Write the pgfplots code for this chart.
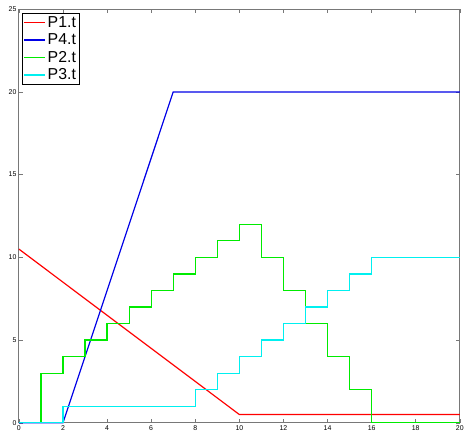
\documentclass[border=0pt]{standalone}
\usepackage{pgfplots}
\pgfplotsset{compat=1.18}
\usepackage{fontspec}
\setmainfont{Liberation Sans}
\usetikzlibrary{calc}
\definecolor{cred}{RGB}{255,0,0}
\definecolor{cblue}{RGB}{0,0,230}
\definecolor{cgreen}{RGB}{0,235,0}
\definecolor{ccyan}{RGB}{0,240,240}
\definecolor{axgray}{RGB}{120,120,120}
\begin{document}
\begin{tikzpicture}
\begin{axis}[
  clip=false,
  scale only axis,
  width=443.5bp, height=416bp,
  xmin=0, xmax=20, ymin=0, ymax=25,
  xtick={0,2,...,20}, ytick={0,5,...,25},
  tick align=inside,
  major tick length=4bp,
  axis line style={color=axgray, line width=0.8bp},
  tick style={color=axgray, line width=0.6bp},
  ticklabel style={font=\fontsize{7}{8}\selectfont},
  /pgf/number format/assume math mode=true,
  xticklabel style={yshift=1bp},
  yticklabel style={xshift=1bp},
  legend style={at={(rel axis cs:0,1)}, anchor=north west, xshift=3.5bp, yshift=-4bp,
    draw=black, line width=0.6bp, font=\fontsize{16}{18}\selectfont,
    inner xsep=1bp, inner ysep=1bp, row sep=1bp},
  legend cell align=left,
  legend image code/.code={\draw[#1] (0bp,0bp) -- (21bp,0bp);},
]
\addplot[color=cred, line width=1.2bp] coordinates {(0,10.5) (10,0.5) (20,0.5)};
\addlegendentry{P1.t}
\addplot[color=cblue, line width=1.2bp] coordinates {(0,0) (2,0) (7,20) (20,20)};
\addlegendentry{P4.t}
\addplot[color=cgreen, line width=1.2bp, const plot] coordinates {
 (0,0) (1,3) (2,4) (3,5) (4,6) (5,7) (6,8) (7,9) (8,10) (9,11) (10,12)
 (11,10) (12,8) (13,6) (14,4) (15,2) (16,0) (20,0)};
\addlegendentry{P2.t}
\addplot[color=ccyan, line width=1.2bp, const plot] coordinates {
 (0,0) (2,1) (8,2) (9,3) (10,4) (11,5) (12,6) (13,7) (14,8) (15,9) (16,10) (20,10)};
\addlegendentry{P3.t}
\end{axis}
\path[use as bounding box] ($(current axis.south west)+(-19bp,-12.5bp)$) rectangle ($(current axis.north east)+(4.7bp,9.25bp)$);
\end{tikzpicture}
\end{document}
